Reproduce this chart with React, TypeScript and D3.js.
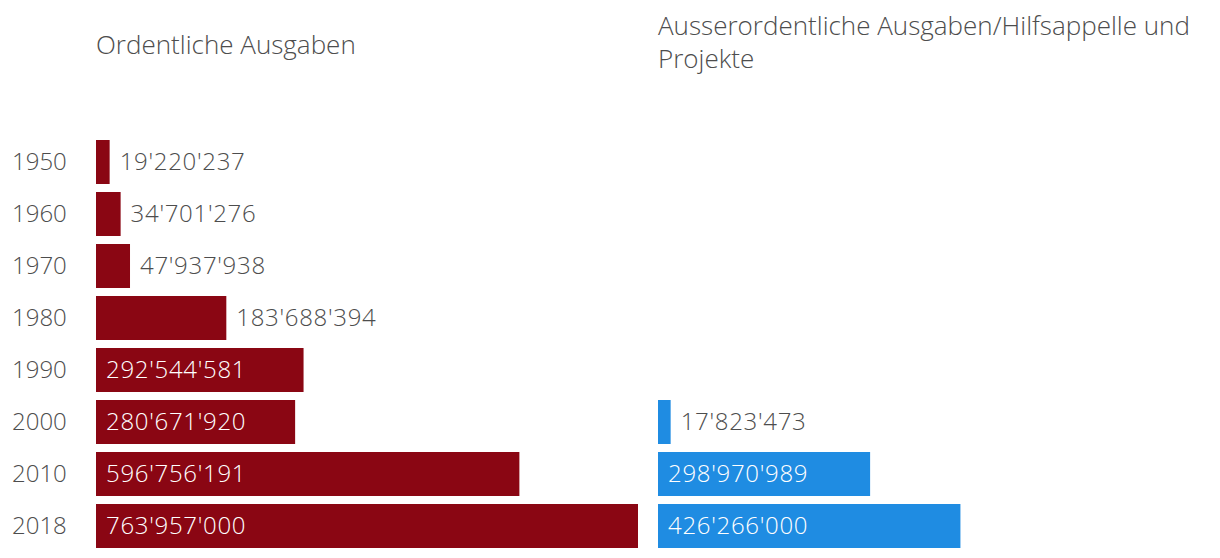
import React from "react";
import * as d3 from "d3";

const years = ["1950", "1960", "1970", "1980", "1990", "2000", "2010", "2018"];
const ordentlich = [19220237, 34701276, 47937938, 183688394, 292544581, 280671920, 596756191, 763957000];
const ausserordentlich = [null, null, null, null, null, 17823473, 298970989, 426266000];
const titleLeft = ["Ordentliche Ausgaben"];
const titleRight = ["Ausserordentliche Ausgaben/Hilfsappelle und", "Projekte"];

const W = 1220;
const H = 558;
const FONT = "'Open Sans', sans-serif";
const TEXT = "#4d4d4d";
const RED = "#8a0613";
const BLUE = "#1f8ce2";

const locale = d3.formatLocale({ decimal: ".", thousands: "'", grouping: [3], currency: ["", ""] });
const fmt = locale.format(",");

export default function App() {
  const y = d3.scaleBand<string>().domain(years).range([136, 552]).paddingInner(8 / 52).paddingOuter(4 / 52);
  const maxV = d3.max(ordentlich.concat(ausserordentlich.filter((v) => v != null) as number[])) as number;
  const xL = d3.scaleLinear().domain([0, maxV]).range([96, 638]);
  const xR = d3.scaleLinear().domain([0, maxV]).range([658, 1200]);
  const fs = 24;
  const tfs = 26;

  const panel = (vals: (number | null)[], x: d3.ScaleLinear<number, number>, color: string, key: string) =>
    vals.map((v, i) => {
      if (v == null) return null;
      const yr = years[i];
      const y0 = y(yr)!;
      const x0 = x(0);
      const w = x(v) - x0;
      const label = fmt(v);
      const tw = label.length * 13.6;
      const inside = w > tw + 20;
      return (
        <g key={key + yr}>
          <rect x={x0} y={y0} width={w} height={y.bandwidth()} fill={color} />
          <text
            x={inside ? x0 + 10 : x0 + w + 10}
            y={y0 + y.bandwidth() / 2}
            dy="0.35em"
            fill={inside ? "#ffffff" : TEXT}
            fontSize={fs}
            fontWeight={300}
            letterSpacing={0.7}
            fontFamily={FONT}
          >
            {label}
          </text>
        </g>
      );
    });

  return (
    <svg width={W} height={H} style={{ position: "absolute", left: 0, top: 0 }}>
      <rect width={W} height={H} fill="#ffffff" />
      {titleLeft.map((t, i) => (
        <text key={t} x={96} y={54 + i * 33} fill={TEXT} fontSize={tfs} fontWeight={300} fontFamily={FONT}>
          {t}
        </text>
      ))}
      {titleRight.map((t, i) => (
        <text key={t} x={658} y={35 + i * 33} fill={TEXT} fontSize={tfs} fontWeight={300} fontFamily={FONT}>
          {t}
        </text>
      ))}
      {years.map((yr) => (
        <text
          key={yr}
          x={12}
          y={y(yr)! + y.bandwidth() / 2}
          dy="0.35em"
          fill={TEXT}
          fontSize={fs}
          fontWeight={300}
          fontFamily={FONT}
        >
          {yr}
        </text>
      ))}
      {panel(ordentlich, xL, RED, "o")}
      {panel(ausserordentlich, xR, BLUE, "a")}
    </svg>
  );
}
